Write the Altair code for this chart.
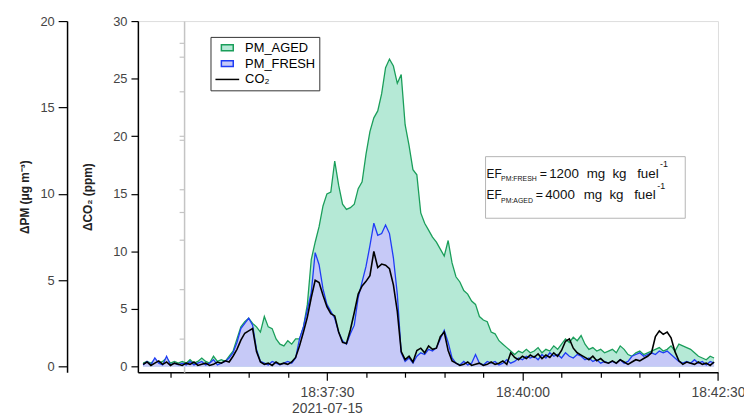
import altair as alt
import pandas as pd

# ---------------- data ----------------
T_START = 9      # seconds after 18:35:00 of first sample
T_STEP = 3       # seconds between samples

pm_aged = [
    0.2, 0.3, 0.2, 0.4, 0.2, 0.3, 0.5, 0.2, 0.3, 0.2,
    0.3, 0.2, 0.4, 0.2, 0.3, 0.5, 0.3, 0.2, 0.6, 0.3,
    0.4, 0.3, 0.6, 0.9, 1.6, 2.3, 2.6, 2.8, 2.5, 2.3,
    2.0, 2.9, 2.3, 2.2, 1.6, 1.3, 1.2, 1.5, 1.3, 1.6,
    1.6, 2.3, 3.6, 6.2, 7.2, 8.1, 9.3, 10.0, 10.1, 11.9,
    10.5, 9.4, 9.1, 9.2, 9.4, 10.3, 10.7, 12.3, 13.6, 14.4,
    14.8, 15.8, 17.3, 17.8, 17.4, 16.4, 16.9, 14.0, 12.8, 11.4,
    11.1, 8.9, 8.3, 7.9, 7.5, 7.2, 6.8, 6.4, 7.3, 6.0,
    5.2, 4.9, 4.4, 4.2, 3.8, 3.6, 2.9, 2.7, 2.6, 2.0,
    1.9, 1.5, 1.3, 1.1, 0.9, 0.7, 0.9, 0.8, 1.0, 0.8,
    0.9, 1.1, 0.8, 1.0, 0.9, 1.2, 1.0, 1.3, 1.6, 1.4,
    1.7, 1.5, 1.8, 1.3, 1.0, 1.1, 0.9, 1.0, 0.8, 0.9,
    1.0, 0.8, 1.2, 1.0, 0.7, 0.6, 0.8, 0.9, 0.7, 0.8,
    0.9, 1.0, 1.1, 0.9, 1.0, 1.2, 0.9, 1.3, 1.2, 1.1,
    1.0, 0.8, 0.6, 0.5, 0.4, 0.6, 0.5,
]
pm_fresh = [
    0.1, 0.3, 0.1, 0.5, 0.2, 0.1, 0.6, 0.1, 0.2, 0.1,
    0.2, 0.1, 0.3, 0.1, 0.2, 0.3, 0.1, 0.2, 0.4, 0.1,
    0.2, 0.3, 0.5, 0.8, 1.4, 2.2, 2.5, 2.8, 2.4, 1.0,
    0.3, 0.2, 0.1, 0.3, 0.2, 0.1, 0.2, 0.3, 0.2, 0.5,
    1.6, 2.3, 3.3, 4.3, 6.6, 5.9, 4.5, 3.6, 3.2, 2.8,
    2.0, 1.5, 1.3, 1.9, 2.4, 4.0, 4.9, 5.8, 7.0, 8.3,
    7.6, 7.7, 8.2, 7.7, 6.3, 4.2, 0.8, 0.3, 0.5, 0.2,
    0.6, 0.8, 0.7, 1.0, 0.9, 1.1, 1.6, 2.1, 1.4, 0.5,
    0.2, 0.1, 0.3, 0.1, 0.2, 0.7, 0.2, 0.1, 0.3, 0.2,
    0.3, 0.1, 0.2, 0.4, 0.2, 0.3, 0.5, 0.4, 0.6, 0.5,
    0.6, 0.4, 0.7, 0.5, 0.8, 0.6, 0.7, 0.5, 0.8, 0.6,
    0.5, 0.7, 0.6, 0.4, 0.5, 0.3, 0.4, 0.2, 0.3, 0.2,
    0.3, 0.2, 0.4, 0.2, 0.3, 0.6, 0.7, 0.8, 0.6, 0.7,
    0.8, 0.7, 0.9, 0.8, 0.9, 0.7, 0.5, 0.3, 0.2, 0.3,
    0.2, 0.4, 0.2, 0.3, 0.1, 0.3, 0.2,
]
co2 = [
    0.2, 0.4, 0.1, 0.3, 0.5, 0.2, 0.4, 0.1, 0.3, 0.2,
    0.1, 0.3, 0.2, 0.4, 0.1, 0.2, 0.3, 0.1, 0.2, 0.4,
    0.3, 0.5, 0.4, 0.9, 1.5, 2.3, 2.9, 3.1, 3.3, 1.3,
    0.4, 0.2, 0.3, 0.1, 0.4, 0.2, 0.3, 0.2, 0.4, 0.8,
    1.8, 3.0, 4.3, 6.0, 7.5, 7.3, 6.2, 5.2, 4.6, 4.4,
    3.0, 2.1, 2.0, 3.2, 4.7, 6.3, 7.0, 7.4, 7.9, 10.0,
    8.6, 8.9, 8.8, 8.5, 7.1, 4.8, 1.3, 0.6, 0.9, 0.4,
    1.4, 1.6, 1.2, 1.8, 1.5, 1.6, 2.6, 3.0, 1.4, 0.5,
    0.3, 0.1, 0.2, 0.4, 0.1, 0.2, 0.3, 0.1, 0.2, 0.4,
    0.2, 0.3, 0.5, 0.2, 1.2, 0.8, 0.6, 0.9, 0.7, 1.0,
    0.8, 1.1, 0.7, 1.0, 0.8, 1.2, 0.9, 1.4, 2.2, 2.4,
    1.6, 1.2, 1.0, 0.8, 0.6, 0.9, 0.5, 0.7, 0.4, 0.3,
    0.5, 0.3, 0.6, 0.4, 0.2, 0.4, 0.6, 0.5, 0.7, 0.9,
    1.2, 2.6, 3.1, 2.8, 3.0, 2.5, 1.3, 0.5, 0.2, 0.4,
    0.3, 0.2, 0.4, 0.2, 0.3, 0.1, 0.4,
]

series_names = ["PM_AGED", "PM_FRESH", "CO₂"]
series_fill = ["#b5e9d6", "#c6c9f7", "#000000"]
series_stroke = ["#1a9e5a", "#1f3cf5", "#000000"]

# axis tick values
pm_ticks = [0, 5, 10, 15, 20]
co2_ticks = [0, 5, 10, 15, 20, 25, 30]
gray_ticks = [28.1, 26.9, 23.9, 20.0, 19.7, 15.4, 13.4, 11.0, 6.7, 2.4]
x_tick_seconds = [30, 60, 90, 120, 150, 180, 210, 240, 270, 300, 330, 360, 390, 420, 450]

# annotation (EF box): seconds after 18:35:00, CO2-scale value, text, font size
ann_t = [272.4, 283.6, 313.2, 320.5, 349.3, 369.0, 388.0, 405.6,
         272.4, 283.6, 310.2, 317.4, 347.0, 366.7, 385.7, 403.4]
ann_v = [16.74, 16.28, 16.74, 16.74, 16.74, 16.74, 16.74, 17.55,
         14.88, 14.42, 14.88, 14.88, 14.88, 14.88, 14.88, 15.65]
ann_text = ["EF", "PM:FRESH", "=", "1200", "mg", "kg", "fuel", "-1",
            "EF", "PM:AGED", "=", "4000", "mg", "kg", "fuel", "-1"]
ann_size = [12, 7, 12.5, 13.5, 13.5, 13.5, 13.5, 9,
            12, 7, 12.5, 13.5, 13.5, 13.5, 13.5, 9]
box_t = [271.7, 424.9]
box_v = [18.23, 12.88]

# ---------------- tables ----------------
BASE_MS = int(pd.Timestamp("2021-07-15T18:35:00Z").value // 10**6)


def ms(sec):
    return BASE_MS + int(round(sec * 1000))


df = pd.DataFrame({
    "time": [ms(T_START + T_STEP * i) for i in range(len(pm_aged))],
    "aged": pm_aged,
    "fresh": pm_fresh,
    "co2": co2,
})
ann_df = pd.DataFrame({"time": [ms(t) for t in ann_t], "co2": ann_v,
                       "label": ann_text, "fs": ann_size})
box_df = pd.DataFrame({"time": [ms(box_t[0])], "time2": [ms(box_t[1])],
                       "co2": [box_v[0]], "co2b": [box_v[1]]})
gray_df = pd.DataFrame({"v": gray_ticks})
legend_df = pd.DataFrame({"series": series_names})

FONT = "Liberation Sans"

# ---------------- encodings ----------------
major = "(utcminutes(datum.value) * 60 + utcseconds(datum.value)) % 150 == 0"
label_expr = (
    "((utcminutes(datum.value) * 60 + utcseconds(datum.value)) % 150 != 0) ? '' : "
    "((utcminutes(datum.value) * 60 + utcseconds(datum.value)) == 2250 ? "
    "[utcFormat(datum.value, '%H:%M:%S'), '2021-07-15'] : utcFormat(datum.value, '%H:%M:%S'))"
)
x_scale = alt.Scale(type="utc", domain=[ms(5), ms(450)])
x_axis = alt.Axis(
    values=[ms(s) for s in x_tick_seconds], labelExpr=label_expr, title=None,
    grid=False, domainColor="black", domainWidth=1.5, tickColor="black", tickWidth=1.2,
    tickSize={"condition": {"test": major, "value": 8}, "value": 5},
    labelFont=FONT, labelFontSize=14, labelColor="#444444", labelPadding=6,
    labelLineHeight=16, labelFlush=False, labelOverlap=False, labelBound=False,
)
X = alt.X("time:Q", type="temporal", scale=x_scale, axis=x_axis)

pm_scale = alt.Scale(domain=[-0.326, 20], nice=False, zero=False)
pm_axis = alt.Axis(
    orient="left", offset=71.6, values=pm_ticks, title="ΔPM (μg m⁻³)", grid=False,
    domainColor="black", domainWidth=1.5, tickColor="black", tickWidth=1.2, tickSize=9,
    labelFont=FONT, labelFontSize=13, labelColor="#444444", labelPadding=4,
    titleFont=FONT, titleFontSize=12, titleFontWeight="bold", titleColor="#222222",
    titlePadding=9,
)
co2_scale = alt.Scale(domain=[-0.49, 30], nice=False, zero=False)
co2_axis = alt.Axis(
    orient="left", offset=0, values=co2_ticks, title="ΔCO₂ (ppm)", grid=False,
    domainColor="black", domainWidth=1.5, tickColor="black", tickWidth=1.2, tickSize=7,
    labelFont=FONT, labelFontSize=13, labelColor="#444444", labelPadding=4,
    titleFont=FONT, titleFontSize=12, titleFontWeight="bold", titleColor="#222222",
    titlePadding=18,
)

# ---------------- PM areas ----------------
aged_area = alt.Chart(df).mark_area(
    color=series_fill[0], opacity=1,
    line={"color": series_stroke[0], "strokeWidth": 1.3},
).encode(x=X, y=alt.Y("aged:Q", scale=pm_scale, axis=pm_axis), y2=alt.datum(0))
fresh_area = alt.Chart(df).mark_area(
    color=series_fill[1], opacity=1,
    line={"color": series_stroke[1], "strokeWidth": 1.3},
).encode(x=X, y=alt.Y("fresh:Q", scale=pm_scale, axis=pm_axis), y2=alt.datum(0))
pm_group = alt.layer(aged_area, fresh_area)

# ---------------- CO2 line + annotation ----------------
Yc = alt.Y("co2:Q", scale=co2_scale, axis=co2_axis)
co2_line = alt.Chart(df).mark_line(color="black", strokeWidth=1.6).encode(x=X, y=Yc)
box = alt.Chart(box_df).mark_rect(fillOpacity=0, stroke="#b4b4b4", strokeWidth=1).encode(
    x=X, x2="time2:Q", y=Yc, y2="co2b:Q")
ann = alt.Chart(ann_df).mark_text(align="left", baseline="middle", font=FONT, color="#111111").encode(
    x=X, y=Yc, text="label:N", size=alt.Size("fs:Q", scale=None, legend=None))
co2_group = alt.layer(co2_line, box, ann)

# ---------------- extra gray axis ----------------
gray_layer = alt.Chart(gray_df).mark_point(opacity=0).encode(
    y=alt.Y("v:Q", scale=alt.Scale(domain=[-0.49, 30], nice=False, zero=False),
            axis=alt.Axis(orient="left", offset=-46.7, values=gray_ticks, labels=False,
                          title=None, grid=False, tickSize=5, tickWidth=1.2,
                          domainColor="#c4c4c4", tickColor="#c4c4c4", domainWidth=1.5)))

# ---------------- legend ----------------
leg = alt.Legend(
    orient="none", legendX=73.4, legendY=16, title=None, labelFont=FONT, labelFontSize=13,
    labelColor="black", strokeColor="#333333", fillColor="white", padding=4,
    symbolOffset=6, labelOffset=11, rowPadding=2, symbolSize=144, symbolStrokeWidth=1.5,
)
shapes = ["M-1,-0.5H1V0.5H-1Z", "M-1,-0.5H1V0.5H-1Z", "M-2,0H2"]
legend_layer = alt.Chart(legend_df).mark_point(filled=True, opacity=1).encode(
    fill=alt.Fill("series:N", scale=alt.Scale(domain=series_names, range=series_fill), legend=leg),
    stroke=alt.Stroke("series:N", scale=alt.Scale(domain=series_names, range=series_stroke), legend=leg),
    shape=alt.Shape("series:N", scale=alt.Scale(domain=series_names, range=shapes), legend=leg),
).transform_filter("false")

chart = alt.layer(pm_group, co2_group, gray_layer, legend_layer).resolve_scale(
    y="independent"
).properties(
    width=586.4, height=355,
    autosize=alt.AutoSizeParams(type="none"),
    padding={"left": 131.3, "top": 11, "right": 26.3, "bottom": 42},
).configure_view(stroke=None).configure(background="white")

chart.save("out.html", embed_options={"renderer": "svg", "actions": False})
